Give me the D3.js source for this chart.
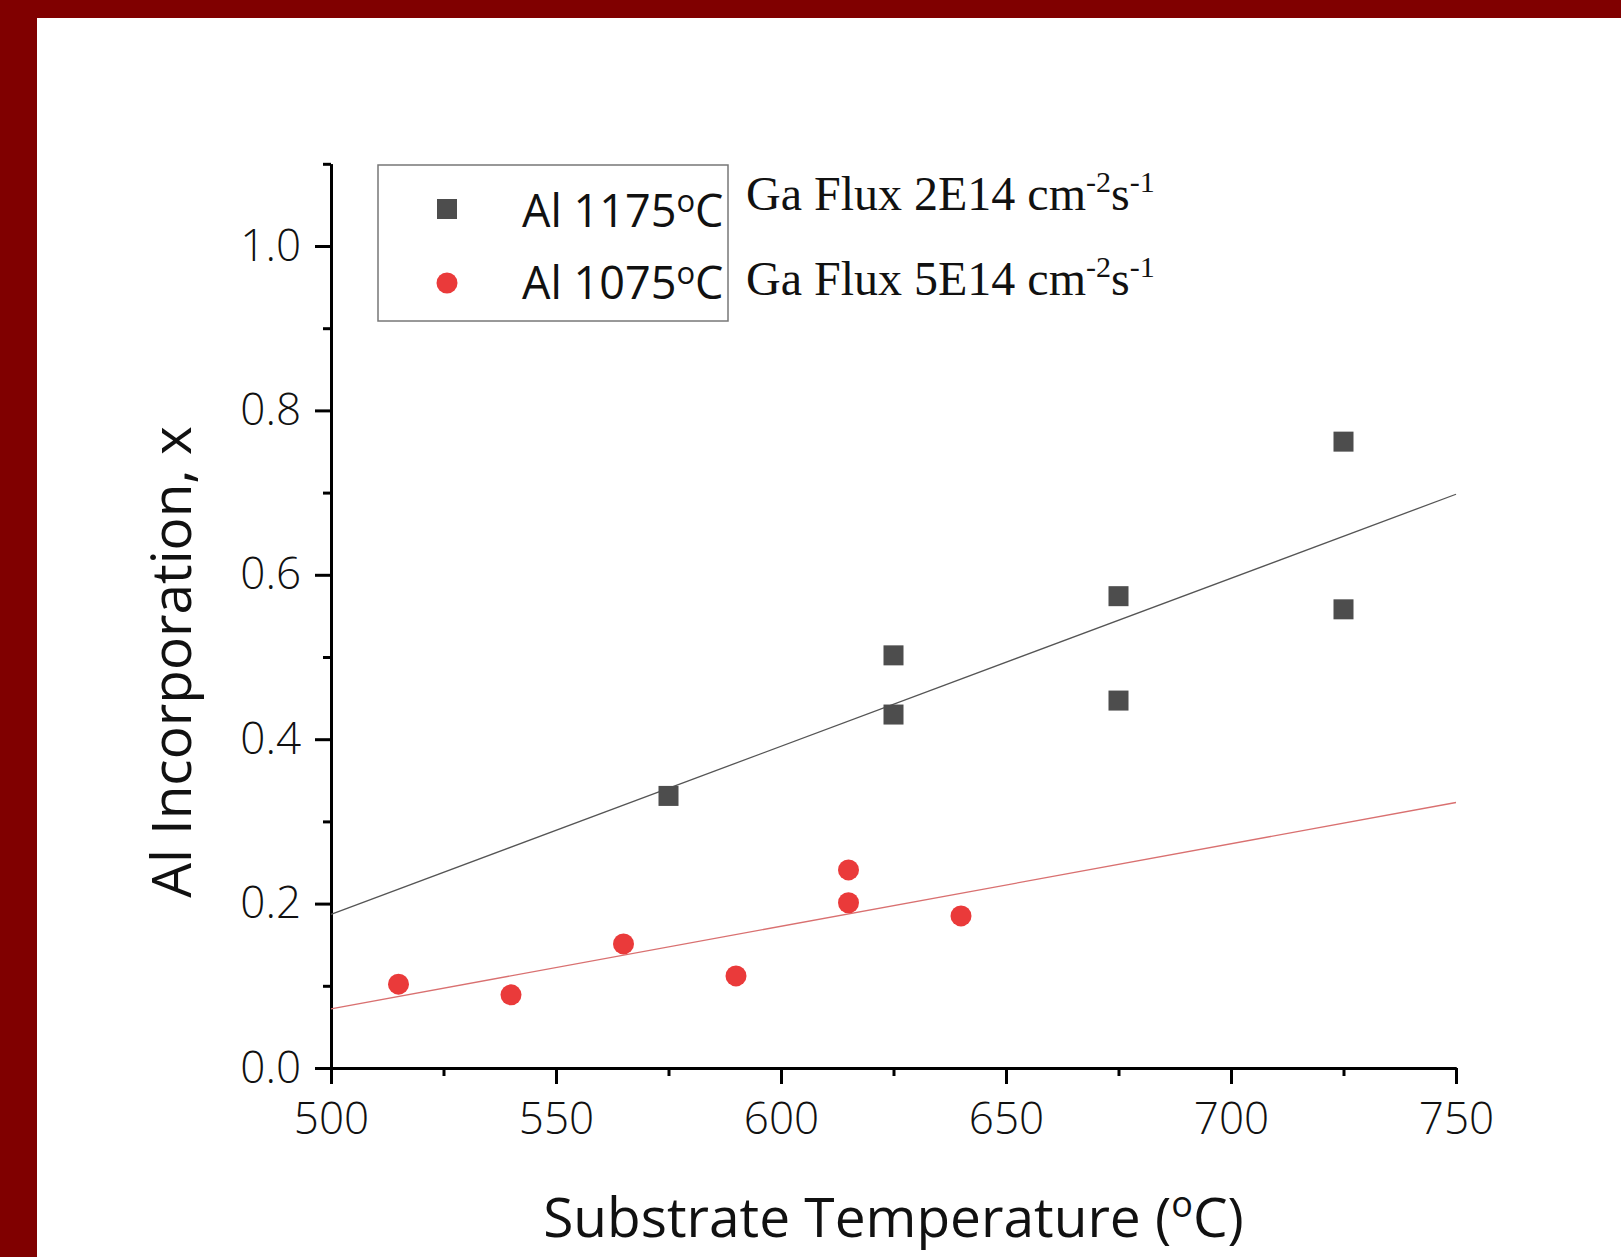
<!DOCTYPE html>
<html>
<head>
<meta charset="utf-8">
<script src="https://cdn.jsdelivr.net/npm/d3@7"></script>
<style>
  html, body { margin: 0; padding: 0; background: #fff; }
  svg { display: block; }
</style>
</head>
<body>
<svg id="chart"></svg>
<script>
// values
const tempHigh = [575, 625, 625, 675, 675, 725, 725];          // Al 1175°C
const incHigh  = [0.331, 0.502, 0.430, 0.574, 0.447, 0.762, 0.558];
const tempLow  = [515, 540, 565, 590, 615, 615, 640];          // Al 1075°C
const incLow   = [0.102, 0.089, 0.151, 0.112, 0.241, 0.201, 0.185];
const fitTemp  = [500, 750];
const fitHigh  = [0.187, 0.698];
const fitLow   = [0.072, 0.323];

const xMajor = [500, 550, 600, 650, 700, 750];
const xMinor = [525, 575, 625, 675, 725];
const yMajor = [0, 0.2, 0.4, 0.6, 0.8, 1.0];
const yMinor = [0.1, 0.3, 0.5, 0.7, 0.9, 1.1];

const legendLabels = ["Al 1175", "Al 1075"];
const fluxLabels = ["Ga Flux 2E14 cm", "Ga Flux 5E14 cm"];

function drawChart() {
    const width = 1621, height = 1257;
    const left = 331, right = 1456, bottom = 1068, top = 163.8;
    const gray = "#4d4d4d", red = "#ea3a3a";
    const font = "'Open Sans', 'Noto Sans', sans-serif";

    const svg = d3.select("#chart")
        .attr("width", width)
        .attr("height", height);

    svg.append("rect").attr("width", width).attr("height", height).attr("fill", "#fff");
    // maroon frame on top and left edge
    svg.append("rect").attr("x", 0).attr("y", 0).attr("width", width).attr("height", 18).attr("fill", "#800000");
    svg.append("rect").attr("x", 0).attr("y", 0).attr("width", 37).attr("height", height).attr("fill", "#800000");

    const x = d3.scaleLinear().domain([500, 750]).range([left, right]);
    const y = d3.scaleLinear().domain([0, 1.1]).range([bottom, top]);

    // minor ticks first, then major axes with labels
    const styleAxis = g => {
        g.select(".domain").attr("stroke", "#000").attr("stroke-width", 3);
        g.selectAll(".tick line").attr("stroke", "#000").attr("stroke-width", 3);
        g.selectAll(".tick text")
            .attr("fill", "#111")
            .style("font-family", font)
            .style("font-weight", 300)
            .style("font-size", "44px");
    };

    svg.append("g")
        .attr("transform", `translate(0,${bottom})`)
        .call(d3.axisBottom(x).tickValues(xMinor).tickSize(8).tickSizeOuter(0).tickFormat(""))
        .call(styleAxis);
    svg.append("g")
        .attr("transform", `translate(0,${bottom})`)
        .call(d3.axisBottom(x).tickValues(xMajor).tickSize(16).tickSizeOuter(0).tickPadding(19))
        .call(styleAxis);

    svg.append("g")
        .attr("transform", `translate(${left},0)`)
        .call(d3.axisLeft(y).tickValues(yMinor).tickSize(8).tickSizeOuter(0).tickFormat(""))
        .call(styleAxis);
    svg.append("g")
        .attr("transform", `translate(${left},0)`)
        .call(d3.axisLeft(y).tickValues(yMajor).tickSize(16).tickSizeOuter(0).tickPadding(14).tickFormat(d3.format(".1f")))
        .call(styleAxis);

    // linear fit lines
    const line = d3.line().x(d => x(d[0])).y(d => y(d[1]));
    svg.append("path")
        .datum(fitTemp.map((t, i) => [t, fitHigh[i]]))
        .attr("d", line)
        .attr("fill", "none")
        .attr("stroke", "#555")
        .attr("stroke-width", 1.3);
    svg.append("path")
        .datum(fitTemp.map((t, i) => [t, fitLow[i]]))
        .attr("d", line)
        .attr("fill", "none")
        .attr("stroke", "#d97070")
        .attr("stroke-width", 1.3);

    // data points
    const sq = 20;
    svg.selectAll(".sq")
        .data(tempHigh.map((t, i) => [t, incHigh[i]]))
        .enter().append("rect")
        .attr("class", "sq")
        .attr("x", d => x(d[0]) - sq / 2)
        .attr("y", d => y(d[1]) - sq / 2)
        .attr("width", sq)
        .attr("height", sq)
        .attr("fill", gray);

    svg.selectAll(".dot")
        .data(tempLow.map((t, i) => [t, incLow[i]]))
        .enter().append("circle")
        .attr("class", "dot")
        .attr("cx", d => x(d[0]))
        .attr("cy", d => y(d[1]))
        .attr("r", 10.5)
        .attr("fill", red);

    // axis titles
    const xt = svg.append("text")
        .attr("x", (left + right) / 2)
        .attr("y", 1237)
        .attr("text-anchor", "middle")
        .style("font-family", font)
        .style("font-size", "55px")
        .attr("fill", "#111");
    xt.append("tspan").text("Substrate Temperature (");
    xt.append("tspan").attr("dy", -20).style("font-size", "36px").text("o");
    xt.append("tspan").attr("dy", 20).text("C)");

    svg.append("text")
        .attr("transform", "translate(191,662) rotate(-90)")
        .attr("text-anchor", "middle")
        .style("font-family", font)
        .style("font-size", "55px")
        .attr("fill", "#111")
        .text("Al Incorporation, x");

    // legend box
    svg.append("rect")
        .attr("x", 378).attr("y", 165)
        .attr("width", 350).attr("height", 156)
        .attr("fill", "#fff")
        .attr("stroke", "#777")
        .attr("stroke-width", 1.5);

    svg.append("rect")
        .attr("x", 447 - sq / 2).attr("y", 209 - sq / 2)
        .attr("width", sq).attr("height", sq)
        .attr("fill", gray);
    svg.append("circle")
        .attr("cx", 447).attr("cy", 283).attr("r", 10.5)
        .attr("fill", red);

    legendLabels.forEach((lab, i) => {
        const t = svg.append("text")
            .attr("x", 522)
            .attr("y", 227 + i * 72)
            .style("font-family", font)
            .style("font-size", "45px")
            .attr("fill", "#111");
        t.append("tspan").text(lab);
        t.append("tspan").attr("dy", -15).style("font-size", "31px").text("o");
        t.append("tspan").attr("dy", 15).text("C");
    });

    // flux annotations beside the legend
    fluxLabels.forEach((lab, i) => {
        const t = svg.append("text")
            .attr("x", 746)
            .attr("y", 210 + i * 85)
            .style("font-family", "'Liberation Serif', 'Times New Roman', serif")
            .style("font-size", "48px")
            .attr("fill", "#111");
        t.append("tspan").text(lab);
        t.append("tspan").attr("dy", -18).style("font-size", "30px").text("-2");
        t.append("tspan").attr("dy", 18).text("s");
        t.append("tspan").attr("dy", -18).style("font-size", "30px").text("-1");
    });
}

drawChart();
</script>
</body>
</html>
